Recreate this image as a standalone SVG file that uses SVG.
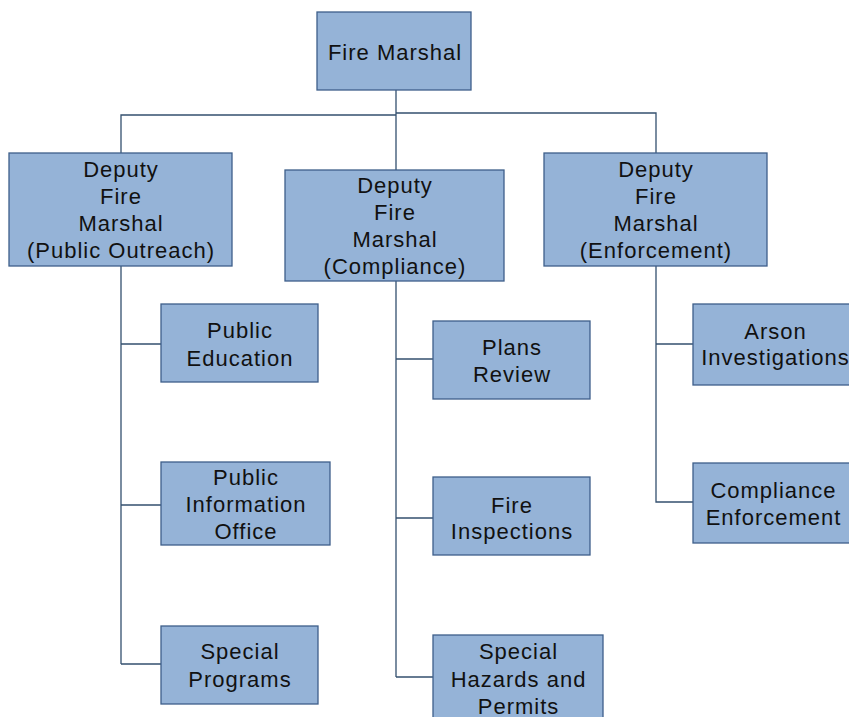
<svg xmlns="http://www.w3.org/2000/svg" width="849" height="717" viewBox="0 0 849 717">
<style>
.box{fill:#95B3D7;stroke:#3E5F8A;stroke-width:1.3}
.t{font-family:"Liberation Sans",Arial,sans-serif;font-size:22px;letter-spacing:1px;fill:#111;text-anchor:middle}
.c{fill:none;stroke:#34506F;stroke-width:1.3}
</style>
<rect width="849" height="717" fill="#fff"/>
<g id="connectors">
<path class="c" d="M396,90 V170 M396,115 H121 V153 M396,113 H656 V153"/>
<path class="c" d="M121,266 V664 M121,344 H161 M121,505 H161 M121,664 H161"/>
<path class="c" d="M396,281 V677 M396,359 H433 M396,518 H433 M396,677 H433"/>
<path class="c" d="M656,266 V502 H693 M656,344 H693"/>
</g>
<g id="fire-marshal"><rect class="box" x="317" y="12" width="154" height="78"/><text class="t" x="395" y="60">Fire Marshal</text></g>
<g id="deputy-outreach"><rect class="box" x="9" y="153" width="223" height="113"/><text class="t"><tspan x="121" y="177">Deputy</tspan><tspan x="121" y="204">Fire</tspan><tspan x="121" y="231">Marshal</tspan><tspan x="121" y="258">(Public Outreach)</tspan></text></g>
<g id="deputy-compliance"><rect class="box" x="285" y="170" width="219" height="111"/><text class="t"><tspan x="395" y="193">Deputy</tspan><tspan x="395" y="220">Fire</tspan><tspan x="395" y="247">Marshal</tspan><tspan x="395" y="274">(Compliance)</tspan></text></g>
<g id="deputy-enforcement"><rect class="box" x="544" y="153" width="223" height="113"/><text class="t"><tspan x="656" y="177">Deputy</tspan><tspan x="656" y="204">Fire</tspan><tspan x="656" y="231">Marshal</tspan><tspan x="656" y="258">(Enforcement)</tspan></text></g>
<g id="public-education"><rect class="box" x="161" y="304" width="157" height="78"/><text class="t"><tspan x="240" y="338">Public</tspan><tspan x="240" y="366">Education</tspan></text></g>
<g id="public-information-office"><rect class="box" x="161" y="462" width="169" height="83"/><text class="t"><tspan x="246" y="485">Public</tspan><tspan x="246" y="512">Information</tspan><tspan x="246" y="539">Office</tspan></text></g>
<g id="special-programs"><rect class="box" x="161" y="626" width="157" height="78"/><text class="t"><tspan x="240" y="659">Special</tspan><tspan x="240" y="687">Programs</tspan></text></g>
<g id="plans-review"><rect class="box" x="433" y="321" width="157" height="78"/><text class="t"><tspan x="512" y="355">Plans</tspan><tspan x="512" y="382">Review</tspan></text></g>
<g id="fire-inspections"><rect class="box" x="433" y="477" width="157" height="78"/><text class="t"><tspan x="512" y="513">Fire</tspan><tspan x="512" y="539">Inspections</tspan></text></g>
<g id="special-hazards"><rect class="box" x="433" y="635" width="170" height="95"/><text class="t"><tspan x="518.5" y="659">Special</tspan><tspan x="518.5" y="687">Hazards and</tspan><tspan x="518.5" y="714">Permits</tspan></text></g>
<g id="arson-investigations"><rect class="box" x="693" y="304" width="165" height="81"/><text class="t"><tspan x="775.5" y="339">Arson</tspan><tspan x="775.5" y="365">Investigations</tspan></text></g>
<g id="compliance-enforcement"><rect class="box" x="693" y="463" width="165" height="80"/><text class="t"><tspan x="773.5" y="498">Compliance</tspan><tspan x="773.5" y="525">Enforcement</tspan></text></g>
</svg>
